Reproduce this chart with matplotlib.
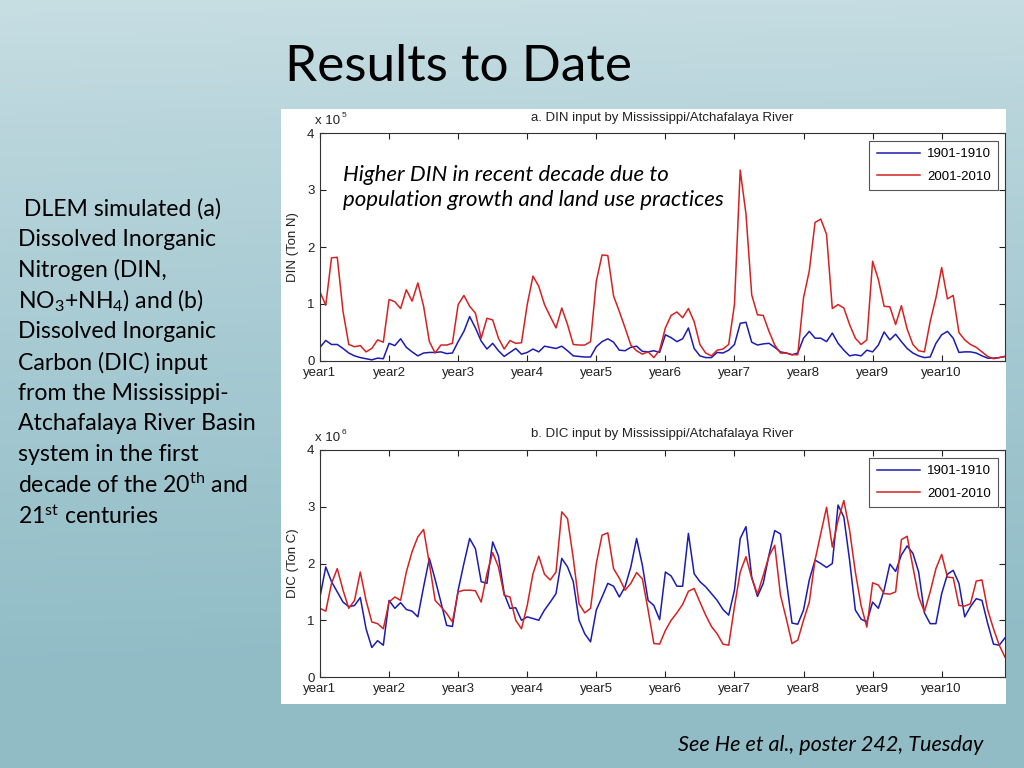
import numpy as np
import matplotlib
import matplotlib.pyplot as plt
from matplotlib.patches import Rectangle

plt.rcParams['mathtext.fontset'] = 'custom'
plt.rcParams['mathtext.rm'] = 'Lato'
plt.rcParams['mathtext.it'] = 'Lato:italic'
plt.rcParams['mathtext.bf'] = 'Lato:bold'

# ---------------- data ----------------
months = np.arange(1, 121)
year_ticks = [1, 13, 25, 37, 49, 61, 73, 85, 97, 109]
year_labels = ['year1', 'year2', 'year3', 'year4', 'year5',
               'year6', 'year7', 'year8', 'year9', 'year10']
series_labels = ['1901-1910', '2001-2010']

# DIN, units of 1e5 Ton N
din_1901 = [0.24, 0.36, 0.29, 0.29, 0.22, 0.14, 0.09, 0.06, 0.04, 0.02, 0.05, 0.04,
            0.31, 0.27, 0.39, 0.24, 0.16, 0.09, 0.14, 0.15, 0.15, 0.16, 0.13, 0.14,
            0.34, 0.52, 0.78, 0.58, 0.35, 0.21, 0.31, 0.18, 0.08, 0.15, 0.22, 0.12,
            0.15, 0.21, 0.16, 0.26, 0.24, 0.22, 0.26, 0.18, 0.09, 0.08, 0.07, 0.07,
            0.25, 0.34, 0.39, 0.33, 0.19, 0.18, 0.24, 0.26, 0.17, 0.16, 0.18, 0.15,
            0.46, 0.41, 0.34, 0.39, 0.58, 0.22, 0.09, 0.06, 0.06, 0.15, 0.14, 0.19,
            0.29, 0.66, 0.68, 0.33, 0.28, 0.30, 0.31, 0.24, 0.16, 0.14, 0.11, 0.14,
            0.40, 0.52, 0.40, 0.40, 0.34, 0.49, 0.31, 0.19, 0.09, 0.11, 0.09, 0.19,
            0.16, 0.28, 0.51, 0.37, 0.47, 0.34, 0.22, 0.14, 0.09, 0.06, 0.07, 0.31,
            0.46, 0.52, 0.40, 0.15, 0.16, 0.16, 0.14, 0.09, 0.05, 0.05, 0.06, 0.08]
din_2001 = [1.21, 0.98, 1.81, 1.82, 0.87, 0.29, 0.25, 0.27, 0.16, 0.22, 0.37, 0.33,
            1.08, 1.04, 0.92, 1.25, 1.05, 1.37, 0.96, 0.34, 0.14, 0.28, 0.28, 0.31,
            0.99, 1.15, 0.96, 0.84, 0.40, 0.75, 0.72, 0.40, 0.21, 0.36, 0.31, 0.32,
            0.99, 1.49, 1.31, 0.99, 0.78, 0.58, 0.93, 0.64, 0.29, 0.28, 0.28, 0.34,
            1.40, 1.86, 1.85, 1.14, 0.87, 0.58, 0.28, 0.18, 0.12, 0.16, 0.06, 0.19,
            0.58, 0.80, 0.86, 0.76, 0.92, 0.69, 0.29, 0.14, 0.09, 0.19, 0.21, 0.29,
            0.99, 3.35, 2.58, 1.16, 0.81, 0.80, 0.52, 0.28, 0.14, 0.14, 0.11, 0.11,
            1.11, 1.58, 2.43, 2.49, 2.22, 0.92, 0.99, 0.93, 0.64, 0.40, 0.29, 0.37,
            1.75, 1.43, 0.96, 0.95, 0.64, 0.97, 0.56, 0.29, 0.18, 0.16, 0.69, 1.11,
            1.64, 1.09, 1.15, 0.50, 0.37, 0.29, 0.24, 0.16, 0.08, 0.04, 0.06, 0.08]

# DIC, units of 1e6 Ton C
dic_1901 = [1.41, 1.94, 1.68, 1.50, 1.32, 1.24, 1.26, 1.40, 0.85, 0.52, 0.64, 0.56,
            1.35, 1.21, 1.31, 1.19, 1.16, 1.06, 1.59, 2.09, 1.72, 1.32, 0.91, 0.89,
            1.53, 2.00, 2.44, 2.26, 1.68, 1.65, 2.38, 2.13, 1.47, 1.21, 1.22, 1.00,
            1.06, 1.03, 1.00, 1.18, 1.32, 1.47, 2.09, 1.94, 1.68, 1.00, 0.76, 0.62,
            1.18, 1.41, 1.65, 1.60, 1.41, 1.59, 1.94, 2.44, 1.97, 1.35, 1.26, 1.01,
            1.85, 1.78, 1.60, 1.60, 2.53, 1.82, 1.68, 1.59, 1.47, 1.35, 1.19, 1.09,
            1.53, 2.44, 2.65, 1.76, 1.42, 1.65, 2.15, 2.58, 2.52, 1.71, 0.95, 0.93,
            1.18, 1.71, 2.06, 2.00, 1.93, 2.00, 3.03, 2.82, 2.06, 1.18, 1.02, 0.97,
            1.32, 1.21, 1.53, 1.99, 1.86, 2.15, 2.31, 2.18, 1.85, 1.13, 0.94, 0.94,
            1.47, 1.81, 1.88, 1.65, 1.06, 1.24, 1.38, 1.35, 0.94, 0.58, 0.56, 0.69]
dic_2001 = [1.21, 1.16, 1.65, 1.91, 1.53, 1.21, 1.35, 1.85, 1.35, 0.97, 0.94, 0.85,
            1.32, 1.41, 1.35, 1.85, 2.21, 2.47, 2.60, 2.00, 1.35, 1.24, 1.12, 0.97,
            1.50, 1.53, 1.53, 1.52, 1.32, 1.82, 2.19, 1.94, 1.44, 1.41, 1.00, 0.85,
            1.26, 1.82, 2.13, 1.81, 1.71, 1.85, 2.91, 2.79, 2.09, 1.29, 1.13, 1.21,
            2.00, 2.50, 2.54, 1.91, 1.74, 1.53, 1.65, 1.84, 1.73, 1.18, 0.59, 0.58,
            0.82, 1.00, 1.13, 1.28, 1.51, 1.56, 1.32, 1.09, 0.89, 0.76, 0.58, 0.56,
            1.24, 1.85, 2.12, 1.74, 1.46, 1.79, 2.13, 2.32, 1.44, 1.03, 0.59, 0.65,
            1.00, 1.32, 2.06, 2.53, 2.99, 2.29, 2.76, 3.11, 2.59, 1.85, 1.26, 0.88,
            1.66, 1.62, 1.47, 1.46, 1.50, 2.42, 2.48, 1.94, 1.41, 1.15, 1.50, 1.91,
            2.16, 1.76, 1.75, 1.26, 1.25, 1.29, 1.69, 1.71, 1.18, 0.85, 0.56, 0.35]

left_lines = [' DLEM simulated (a)',
              'Dissolved Inorganic',
              'Nitrogen (DIN,',
              r'NO$_3$+NH$_4$) and (b)',
              'Dissolved Inorganic',
              'Carbon (DIC) input',
              'from the Mississippi-',
              'Atchafalaya River Basin',
              'system in the first',
              r'decade of the 20$^{\mathrm{th}}$ and',
              r'21$^{\mathrm{st}}$ centuries']

# ---------------- figure ----------------
W, H = 1024, 768
fig = plt.figure(figsize=(W / 100, H / 100), dpi=100)

# background gradient
bg = fig.add_axes([0, 0, 1, 1], zorder=-10)
bg.set_axis_off()
top = np.array([0.78, 0.87, 0.89])
bot = np.array([0.57, 0.74, 0.78])
ty = np.linspace(0, 1, 200)[:, None]
tx = np.linspace(0, 1, 200)[None, :]
t = np.clip(ty ** 0.8 * 1.15 + 0.05 * (tx - 0.5), 0, 1)
img = top[None, None, :] * (1 - t[..., None]) + bot[None, None, :] * t[..., None]
bg.imshow(img, aspect='auto', extent=[0, 1, 0, 1], origin='upper')
bg.set_xlim(0, 1)
bg.set_ylim(0, 1)

def fx(px):
    return px / W

def fy(py):
    return 1 - py / H

# white chart panel
fig.patches.append(Rectangle((fx(281), fy(704)), fx(1006) - fx(281), fy(109) - fy(704),
                             transform=fig.transFigure, facecolor='white',
                             edgecolor='none', zorder=-5))

fig.text(fx(285), fy(67), 'Results to Date', fontsize=37, family='Lato',
         va='center', ha='left', color='black')

for i, line in enumerate(left_lines):
    fig.text(fx(18), fy(209 + i * 30.7), line, fontsize=16.6, family='Lato',
             va='center', ha='left', color='black')

fig.text(fx(983), fy(745), 'See He et al., poster 242, Tuesday', fontsize=15.6,
         family='Lato', style='italic', va='center', ha='right', color='black')

blue = '#1c1cb0'
red = '#d42222'
tick_font = 'Liberation Sans'

def make_axes(rect, y1901, y2001, title, ylabel, exp):
    ax = fig.add_axes(rect)
    ax.set_facecolor('white')
    ax.plot(months, y1901, color=blue, lw=1.1, label=series_labels[0])
    ax.plot(months, y2001, color=red, lw=1.1, label=series_labels[1])
    ax.set_xlim(1, 120)
    ax.set_ylim(0, 4)
    ax.set_yticks([0, 1, 2, 3, 4])
    ax.set_xticks(year_ticks)
    ax.set_xticklabels(year_labels)
    ax.tick_params(direction='in', top=True, right=True, length=4, width=0.8,
                   labelsize=9.5, colors='#222222', pad=4)
    for lab in ax.get_xticklabels() + ax.get_yticklabels():
        lab.set_family(tick_font)
    for s in ax.spines.values():
        s.set_color('#333333')
        s.set_linewidth(0.8)
    ax.set_title(title, fontsize=9.5, family=tick_font, color='#222222', pad=9)
    ax.set_ylabel(ylabel, fontsize=9.5, family=tick_font, color='#222222', labelpad=6)
    ax.text(-0.008, 1.025, 'x 10', transform=ax.transAxes, fontsize=9.5,
            family=tick_font, ha='left', va='bottom', color='#222222')
    ax.text(0.032, 1.06, exp, transform=ax.transAxes, fontsize=6,
            family=tick_font, ha='left', va='bottom', color='#222222')
    leg = ax.legend(loc='upper right', handlelength=3.3,
                    prop={'family': tick_font, 'size': 9.5},
                    fancybox=False, edgecolor='#555555', framealpha=1,
                    borderpad=0.55, labelspacing=0.75, handletextpad=0.5,
                    borderaxespad=0.0, bbox_to_anchor=(0.99, 0.965))
    leg.get_frame().set_linewidth(0.8)
    return ax

ax1 = make_axes([fx(320), fy(361), fx(1005) - fx(320), fy(133) - fy(361)],
                din_1901, din_2001,
                'a. DIN input by Mississippi/Atchafalaya River', 'DIN (Ton N)', '5')
ax1.text((343 - 320) / (1005 - 320), 0.762,
         'Higher DIN in recent decade due to\npopulation growth and land use practices',
         transform=ax1.transAxes, fontsize=16, family='Lato', style='italic',
         ha='left', va='center', linespacing=1.3, color='black')

ax2 = make_axes([fx(320), fy(677), fx(1005) - fx(320), fy(450) - fy(677)],
                dic_1901, dic_2001,
                'b. DIC input by Mississippi/Atchafalaya River', 'DIC (Ton C)', '6')

fig.savefig('out.png', dpi=100)
